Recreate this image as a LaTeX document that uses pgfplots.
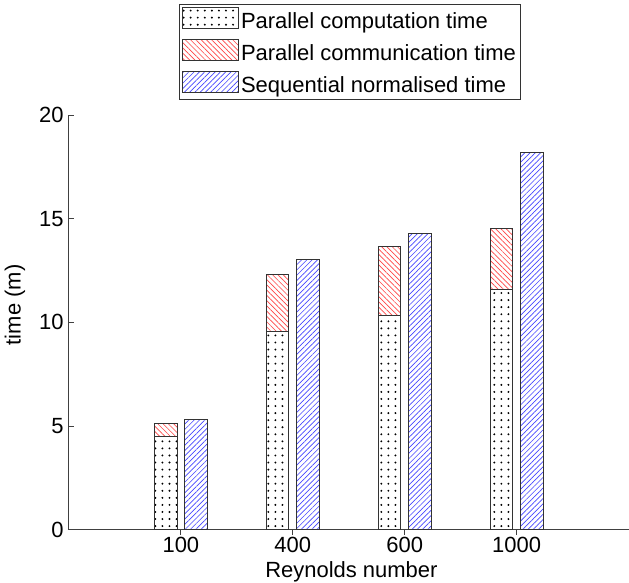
\documentclass[border=0pt]{standalone}
\usepackage{fontspec}
\setmainfont{Liberation Sans}
\usepackage{pgfplots}
\usepackage{pgfplotstable}
\pgfplotsset{compat=1.18}
\usetikzlibrary{patterns.meta}
\pgfplotstableread{
x comp commtop seq
1 4.50 5.14 5.30
2 9.55 12.30 13.05
3 10.35 13.67 14.30
4 11.57 14.52 18.20
}\datatable
\definecolor{hred}{RGB}{255,70,70}
\definecolor{hblue}{RGB}{70,70,255}
\tikzset{
  compstyle/.style={draw=black!80, line width=0.6pt, fill=white, postaction={pattern={Dots[distance=5.3pt, radius=0.8pt]}, pattern color=black}},
  commstyle/.style={draw=black!80, line width=0.6pt, fill=white, postaction={pattern={Lines[angle=-45, distance=2.8pt, line width=0.5pt]}, pattern color=hred}},
  seqstyle/.style={draw=black!80, line width=0.6pt, fill=white, postaction={pattern={Lines[angle=45, distance=2.8pt, line width=0.5pt]}, pattern color=hblue}},
}
\newcommand{\fs}{\fontsize{16.5}{19.8}\selectfont}
\begin{document}
\begin{tikzpicture}
\begin{axis}[
  name=ax,
  scale only axis,
  width=420pt, height=311.25pt,
  xmin=0, xmax=5, ymin=0, ymax=20,
  xtick={1,2,3,4}, xticklabels={100,400,600,1000},
  ytick={0,5,10,15,20},
  axis x line*=bottom, axis y line*=left,
  axis line style={-, black!75, line width=0.7pt},
  tick align=inside,
  major tick length=4pt,
  tick style={black!75, line width=0.6pt},
  ybar, bar width=0.2,
  /pgf/number format/assume math mode=true,
  ticklabel style={font=\fs, inner sep=0pt},
  yticklabel style={anchor=east, xshift=-3.75pt},
  xticklabel style={anchor=north, yshift=-1.5pt},
  label style={font=\fs},
  xlabel={Reynolds number}, ylabel={time (m)},
  xlabel style={at={(axis description cs:0.5,0)}, anchor=north, inner sep=0pt, yshift=-24pt, xshift=2pt},
  ylabel style={at={(axis description cs:-0.0964,0.542)}, anchor=center, inner sep=0pt},
  legend style={at={(0.5,1)}, anchor=south, yshift=11.25pt, xshift=1pt, draw=black!80, line width=0.6pt,
    font=\fs, row sep=4.5pt, inner sep=2pt, nodes={inner sep=1.5pt}},
  legend cell align=left,
]
\addlegendimage{legend image code/.code={\draw[compstyle] (0pt,-5pt) rectangle (42pt,11pt);}}
\addlegendentry{Parallel computation time}
\addlegendimage{legend image code/.code={\draw[commstyle] (0pt,-5pt) rectangle (42pt,11pt);}}
\addlegendentry{Parallel communication time}
\addlegendimage{legend image code/.code={\draw[seqstyle] (0pt,-5pt) rectangle (42pt,11pt);}}
\addlegendentry{Sequential normalised time}
\addplot[commstyle, bar shift=-0.135, forget plot] table[x=x, y=commtop] {\datatable};
\addplot[compstyle, bar shift=-0.135, forget plot] table[x=x, y=comp] {\datatable};
\addplot[seqstyle, bar shift=0.135, forget plot] table[x=x, y=seq] {\datatable};
\end{axis}
\path ([xshift=-51.75pt, yshift=-39.75pt]ax.south west) rectangle ([yshift=86.25pt]ax.north east);
\end{tikzpicture}
\end{document}
